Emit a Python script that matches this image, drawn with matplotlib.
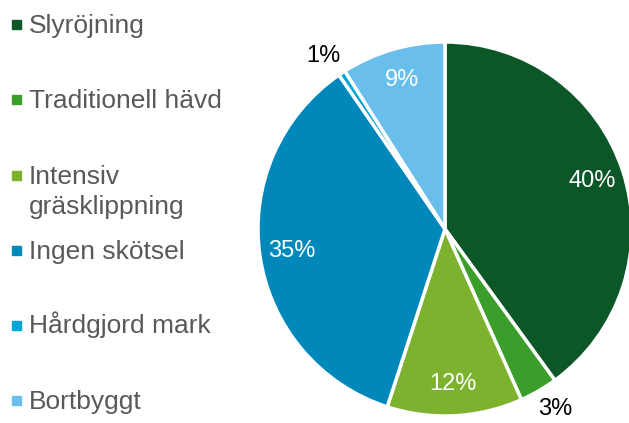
import numpy as np
import matplotlib.pyplot as plt
from matplotlib.patches import Rectangle

plt.rcParams['font.family'] = ['Liberation Sans', 'DejaVu Sans']

categories = ['Slyröjning', 'Traditionell hävd', 'Intensiv\ngräsklippning',
              'Ingen skötsel', 'Hårdgjord mark', 'Bortbyggt']
shares = [40.0, 3.3, 11.7, 35.4, 0.6, 9.0]
colors = ['#0b5727', '#3c9e2a', '#7db22f', '#0088ba', '#00a6d6', '#6abeec']
outside = [False, True, False, False, True, False]

W, H = 629, 423
fig = plt.figure(figsize=(W / 100, H / 100), dpi=100)

# pie axes: centre (445, 229) px, radius 187 px
cx, cy, r = 445, 229, 187
ax = fig.add_axes([(cx - r) / W, (H - cy - r) / H, 2 * r / W, 2 * r / H])
wedges, _, pcts = ax.pie(
    shares, colors=colors, startangle=90, counterclock=False,
    autopct=lambda p: f'{p:.0f}%', pctdistance=0.83,
    wedgeprops=dict(edgecolor='white', linewidth=2.5),
    textprops=dict(color='white', fontsize=17))
ax.set_xlim(-1, 1)
ax.set_ylim(-1, 1)
ax.set_aspect('equal')

for w, t, out in zip(wedges, pcts, outside):
    if out:
        mid = np.deg2rad((w.theta1 + w.theta2) / 2 + 1.5)
        t.set_position((1.13 * np.cos(mid), 1.13 * np.sin(mid)))
        t.set_color('black')

# legend drawn by hand, first-line aligned markers
ys = [25, 99.5, 175.5, 250.5, 325.5, 400.5]
for lab, col, y in zip(categories, colors, ys):
    fig.patches.append(Rectangle((12 / W, 1 - (y + 4.5) / H), 9 / W, 9 / H,
                                 transform=fig.transFigure, color=col))
    lines = lab.split('\n')
    for i, line in enumerate(lines):
        fig.text(29 / W, 1 - (y + 8 + 30 * i) / H, line, fontsize=19,
                 color='#595959', va='baseline', ha='left')

fig.savefig('out.png', dpi=100)
